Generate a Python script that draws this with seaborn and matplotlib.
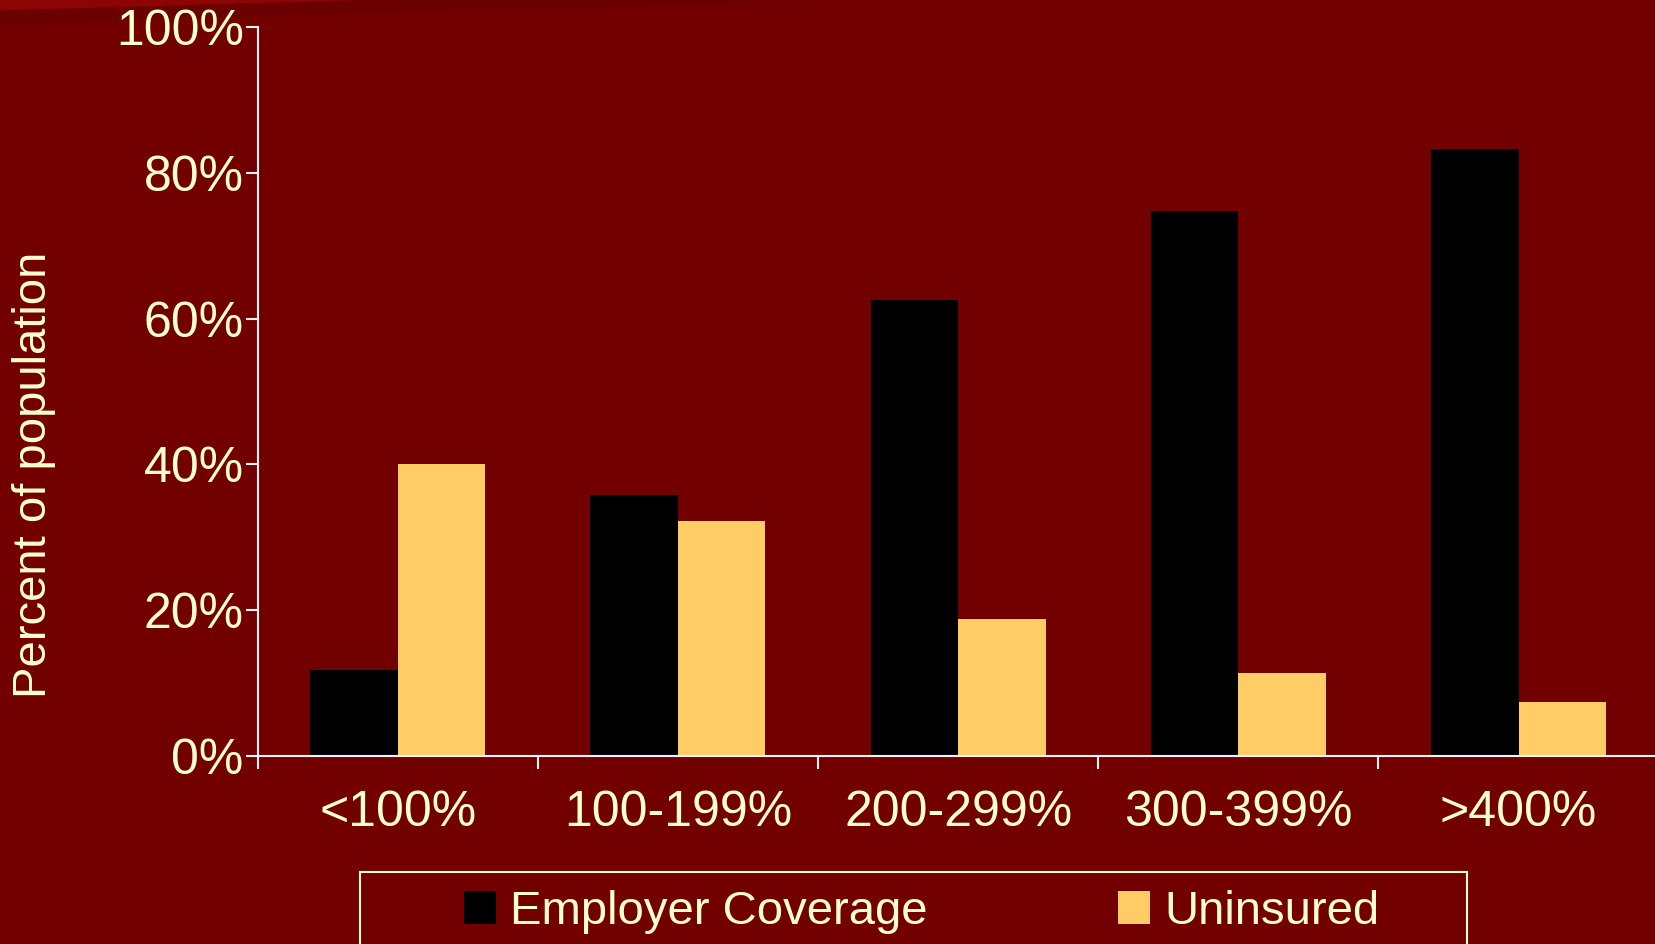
import numpy as np
import pandas as pd
import matplotlib.pyplot as plt
from matplotlib.patches import Rectangle, Polygon
import seaborn as sns

# dados (percentual da populacao)
grupos = ['<100%', '100-199%', '200-299%', '300-399%', '>400%']
empregador = [11.7, 35.8, 62.5, 74.8, 83.3]
sem_seguro = [40.1, 32.2, 18.8, 11.4, 7.4]
series = ['Employer Coverage', 'Uninsured']
yticks = [0, 20, 40, 60, 80, 100]

fundo = '#720000'
texto = '#FFFFCC'
linha = '#F2F2F2'

sns.set_theme(style='white')
plt.rcParams['font.family'] = ['Liberation Sans', 'DejaVu Sans']

df = pd.DataFrame({
    'grupo': grupos * 2,
    'valor': empregador + sem_seguro,
    'serie': [series[0]] * len(grupos) + [series[1]] * len(grupos),
})

fig = plt.figure(figsize=(16.55, 9.44), dpi=100, facecolor=fundo)

# faixa decorativa no canto superior esquerdo (atras de tudo)
fig.add_artist(Polygon([(0, 1), (0, 0.975), (0.5, 1)], closed=True,
                       transform=fig.transFigure, color='#6A0000', lw=0,
                       zorder=-5))
fig.add_artist(Polygon([(0, 1), (0, 0.989), (0.222, 1)], closed=True,
                       transform=fig.transFigure, color='#8C0404', lw=0,
                       zorder=-4))

ax = fig.add_axes([0.1556, 0.1995, 0.8466, 0.7715])
ax.set_facecolor('none')

sns.barplot(data=df, x='grupo', y='valor', hue='serie', order=grupos,
            hue_order=series, palette=['#000000', '#FFCC66'], saturation=1,
            width=0.625, linewidth=0, ax=ax)

handles, labels = ax.get_legend_handles_labels()
ax.get_legend().remove()

ax.set_xlim(-0.5, 4.5)
ax.set_ylim(0, 100)
ax.set_xlabel('')
ax.set_ylabel('')

ax.set_xticks(np.arange(-0.5, 5, 1))
ax.set_xticklabels([])
ax.set_xticks(range(len(grupos)), minor=True)
ax.set_xticklabels(grupos, minor=True)
ax.tick_params(axis='x', which='major', bottom=True, length=9, width=1.5,
               color=linha, direction='out')
ax.tick_params(axis='x', which='minor', bottom=True, length=0, pad=25,
               labelsize=36, labelcolor=texto)

ax.set_yticks(yticks)
ax.set_yticklabels([f'{v}%' for v in yticks])
ax.tick_params(axis='y', left=True, length=9, width=1.5, color=linha,
               direction='out', pad=1, labelsize=36, labelcolor=texto)

for s in ['top', 'right']:
    ax.spines[s].set_visible(False)
for s in ['left', 'bottom']:
    ax.spines[s].set_color(linha)
    ax.spines[s].set_linewidth(1.5)

fig.text(0.0204, 0.4968, 'Percent of population', rotation=90,
         ha='center', va='center', fontsize=34, color=texto)

fig.legend(handles, labels, loc='upper left', bbox_to_anchor=(0.2804, 0.0568),
           ncol=2, frameon=False, fontsize=34, handlelength=0.68,
           handleheight=0.7, handletextpad=0.3, columnspacing=4.02,
           borderpad=0, borderaxespad=0, labelcolor=texto)

fig.add_artist(Rectangle((0.2175, -0.05), 0.669, 0.1263, transform=fig.transFigure,
                         fill=False, edgecolor=texto, lw=1.5))

fig.savefig('out.png', dpi=100, facecolor=fundo)
